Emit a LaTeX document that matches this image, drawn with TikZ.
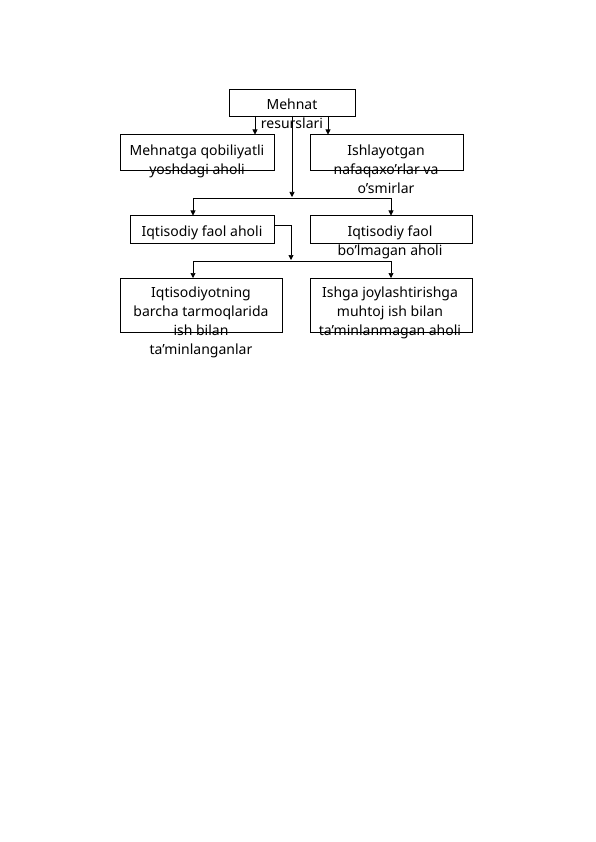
\documentclass[tikz,border=0pt]{standalone}
\usepackage{fontspec}
\setmainfont{Noto Sans}
\usetikzlibrary{arrows.meta}
\begin{document}
\begin{tikzpicture}[x=1pt,y=-1pt,
  box/.style={draw,line width=0.8pt,inner sep=0pt,anchor=north west},
  txt/.style={anchor=north,inner sep=0pt,align=center,font=\fontsize{14}{19}\selectfont},
  conn/.style={line width=0.7pt},
  arr/.style={conn,-{Triangle[length=5pt,width=5pt]}}]
\useasboundingbox (0,0) rectangle (595,842);
% boxes
\node[box,minimum width=126pt,minimum height=27pt] (b1) at (229,89) {};
\node[box,minimum width=154pt,minimum height=36pt] (b2) at (120,134.5) {};
\node[box,minimum width=153pt,minimum height=36pt] (b3) at (310,134.5) {};
\node[box,minimum width=144pt,minimum height=27.5pt] (b4) at (130,215.5) {};
\node[box,minimum width=162pt,minimum height=27.5pt] (b5) at (310,215.5) {};
\node[box,minimum width=162pt,minimum height=54pt] (b6) at (120,278) {};
\node[box,minimum width=162pt,minimum height=54pt] (b7) at (310,278) {};
% texts
\node[txt] (t1) at (292,98.5) {Mehnat\\resurslari};
\node[txt] (t2) at (197,144.5) {Mehnatga qobiliyatli\\yoshdagi aholi};
\node[txt] (t3) at (386,144.5) {Ishlayotgan\\nafaqaxo’rlar va\\o’smirlar};
\node[txt] (t4) at (202,225.5) {Iqtisodiy faol aholi};
\node[txt] (t5) at (390,225.5) {Iqtisodiy faol\\bo’lmagan aholi};
\node[txt] (t6) at (201,286.5) {Iqtisodiyotning\\barcha tarmoqlarida\\ish bilan\\ta’minlanganlar};
\node[txt] (t7) at (390,286.5) {Ishga joylashtirishga\\muhtoj ish bilan\\ta’minlanmagan aholi};
% coordinates
\coordinate (a1) at (255,116);
\coordinate (a2) at (328,116);
\coordinate (c1) at (292,116);
\coordinate (j1) at (292,197);
\coordinate (h1l) at (193,198);
\coordinate (h1r) at (391,198);
\coordinate (k1) at (291,225);
\coordinate (j2) at (291,260);
\coordinate (h2l) at (193,261);
\coordinate (h2r) at (391,261);
% connectors
\draw[arr] (a1) -- (a1 |- b2.north);
\draw[arr] (a2) -- (a2 |- b3.north);
\draw[arr] (c1) -- (j1);
\draw[conn] (h1l) -- (h1r);
\draw[arr] (h1l) -- (h1l |- b4.north);
\draw[arr] (h1r) -- (h1r |- b5.north);
\draw[conn] (b4.east |- k1) -- (k1);
\draw[arr] (k1) -- (j2);
\draw[conn] (h2l) -- (h2r);
\draw[arr] (h2l) -- (h2l |- b6.north);
\draw[arr] (h2r) -- (h2r |- b7.north);
\end{tikzpicture}
\end{document}
